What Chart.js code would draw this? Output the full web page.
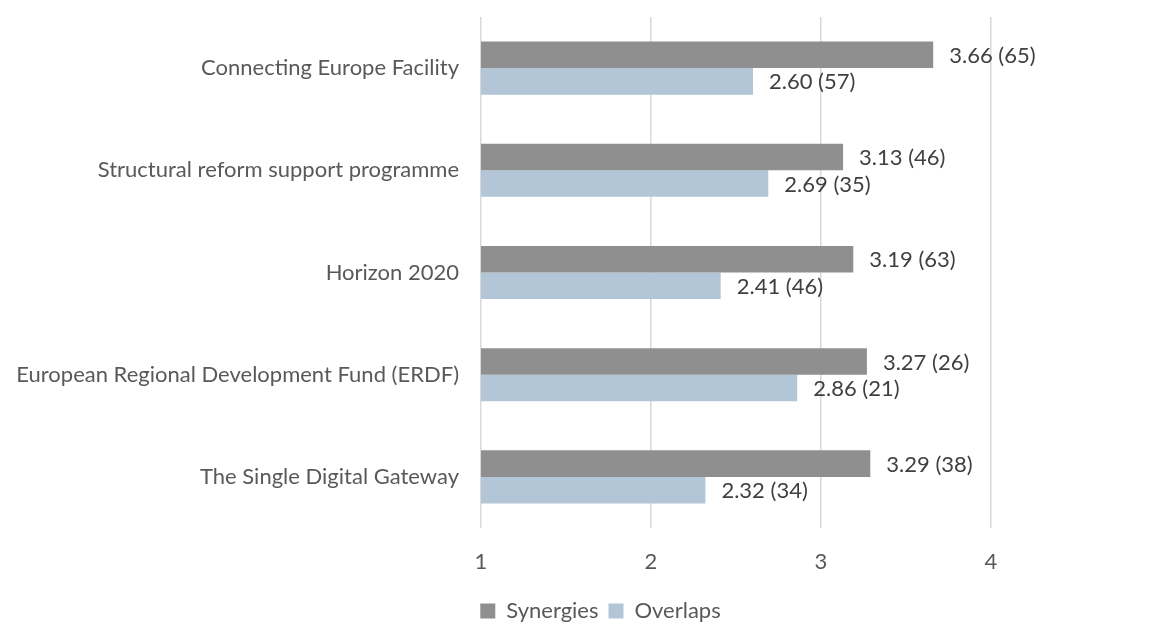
<!DOCTYPE html>
<html><head><meta charset="utf-8">
<script src="https://cdn.jsdelivr.net/npm/chart.js@4.4.1/dist/chart.umd.min.js"></script>
<style>html,body{margin:0;padding:0;background:#fff}#wrap{width:1157px;height:622px}</style>
</head><body><div id="wrap"><canvas id="c"></canvas></div>
<script>
const categories = ["Connecting Europe Facility","Structural reform support programme","Horizon 2020","European Regional Development Fund (ERDF)","The Single Digital Gateway"];
const synergies = [3.66,3.13,3.19,3.27,3.29];
const synergiesN = [65,46,63,26,38];
const overlaps = [2.60,2.69,2.41,2.86,2.32];
const overlapsN = [57,35,46,21,34];
const xTicks = [1,2,3,4];

const FONT = "Lato, 'Open Sans', sans-serif";
const labelPlugin = {
  id:'barLabels',
  afterDatasetsDraw(chart){
    const ctx = chart.ctx;
    ctx.save();
    ctx.font = "22px " + FONT;
    ctx.fillStyle = "#404040";
    ctx.textBaseline = "middle";
    ctx.textAlign = "left";
    chart.data.datasets.forEach((ds,di)=>{
      const meta = chart.getDatasetMeta(di);
      meta.data.forEach((el,i)=>{
        const txt = ds.data[i].toFixed(2) + " (" + ds.counts[i] + ")";
        ctx.fillText(txt, el.x + 16, el.y + 1);
      });
    });
    ctx.restore();
  }
};
// centre the legend under the plot like the original (shift box)
const legendShift = {
  id:'legendShift',
  afterLayout(chart){
    const lg = chart.legend;
    if(!lg) return;
    const dx = 105, dy = 10;
    lg.left += dx; lg.right += dx;
    lg.top += dy; lg.bottom += dy;
  }
};

new Chart(document.getElementById('c'), {
  type:'bar',
  data:{
    labels: categories,
    datasets:[
      {label:'Synergies', data:synergies, counts:synergiesN, backgroundColor:'#8f8f8f', borderWidth:0},
      {label:'Overlaps', data:overlaps, counts:overlapsN, backgroundColor:'#b2c6d7', borderWidth:0}
    ]
  },
  options:{
    indexAxis:'y',
    responsive:true, maintainAspectRatio:false, animation:false,
    layout:{padding:{top:17,right:166,left:0,bottom:0}},
    datasets:{bar:{categoryPercentage:0.52, barPercentage:1.0}},
    scales:{
      x:{min:1,max:4,
        afterBuildTicks(s){ s.ticks = xTicks.map(v=>({value:v})); },
        grid:{color:'#d9d9d9', lineWidth:1.5, drawTicks:false},
        border:{display:false},
        ticks:{color:'#595959', font:{family:FONT,size:22}, padding:21},
        afterFit(s){ s.height = 52; s.paddingLeft = 0; s.paddingRight = 0; }
      },
      y:{
        grid:{display:false, drawTicks:false},
        border:{display:false},
        ticks:{color:'#595959', font:{family:FONT,size:22}, padding:22},
        afterFit(s){ s.width = 481; s.paddingTop = 0; s.paddingBottom = 0; }
      }
    },
    plugins:{
      legend:{position:'bottom',
        labels:{color:'#595959', font:{family:FONT,size:22}, boxWidth:15, boxHeight:15, padding:10}},
      tooltip:{enabled:false}
    }
  },
  plugins:[labelPlugin, legendShift]
});
</script></body></html>
